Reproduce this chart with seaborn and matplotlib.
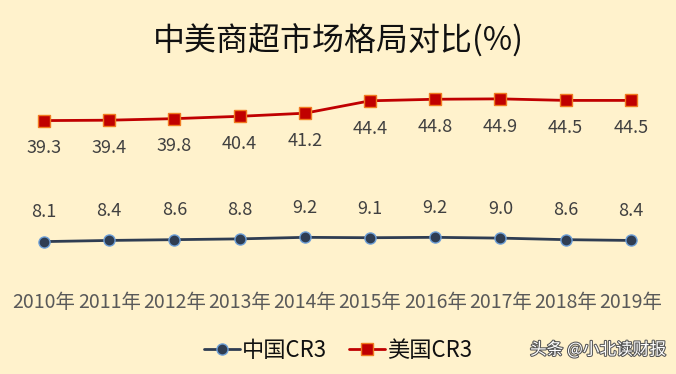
import pandas as pd
import seaborn as sns
import matplotlib.pyplot as plt
import matplotlib.patheffects as pe

years = ['2010年', '2011年', '2012年', '2013年', '2014年', '2015年', '2016年', '2017年', '2018年', '2019年']
china_cr3 = [8.1, 8.4, 8.6, 8.8, 9.2, 9.1, 9.2, 9.0, 8.6, 8.4]
us_cr3 = [39.3, 39.4, 39.8, 40.4, 41.2, 44.4, 44.8, 44.9, 44.5, 44.5]

bg = '#FFF2CC'
sns.set_style('white')
plt.rcParams['font.family'] = ['Noto Sans CJK SC', 'DejaVu Sans']

df = pd.DataFrame({'x': range(len(years)), 'china': china_cr3, 'us': us_cr3})

fig = plt.figure(figsize=(6.76, 3.74), dpi=100, facecolor=bg)
ax = fig.add_axes([0.0169, 0.270, 0.9645, 0.503])
ax.set_facecolor(bg)

sns.lineplot(data=df, x='x', y='china', ax=ax, color='#2F3D52', linewidth=2,
             marker='o', markersize=8, markerfacecolor='#2F3D52',
             markeredgecolor='#6FA0D8', markeredgewidth=1, label='中国CR3')
sns.lineplot(data=df, x='x', y='us', ax=ax, color='#C00000', linewidth=2,
             marker='s', markersize=9, markerfacecolor='#C00000',
             markeredgecolor='#F07A20', markeredgewidth=1, label='美国CR3')

for i, v in enumerate(china_cr3):
    ax.annotate(f'{v:.1f}', (i, v), xytext=(0, 21), textcoords='offset points',
                ha='center', va='center', fontsize=13, color='#404040')
for i, v in enumerate(us_cr3):
    ax.annotate(f'{v:.1f}', (i, v), xytext=(0, -20), textcoords='offset points',
                ha='center', va='center', fontsize=13, color='#404040')

ax.set_xlim(-0.5, 9.5)
ax.set_ylim(0, 48.5)
ax.set_xticks(range(len(years)))
ax.set_xticklabels(years, fontsize=14, color='#595959')
ax.set_yticks([])
ax.tick_params(axis='x', length=0, pad=14)
ax.set_xlabel('')
ax.set_ylabel('')
for s in ax.spines.values():
    s.set_visible(False)

leg = ax.legend(loc='center', bbox_to_anchor=(0.5, 0.064), bbox_transform=fig.transFigure,
                ncol=2, frameon=False, fontsize=16, handlelength=1.6, columnspacing=1.0,
                handletextpad=0.1)
for t in leg.get_texts():
    t.set_color('#111111')

fig.text(0.5, 0.893, '中美商超市场格局对比(%)', ha='center', va='center', fontsize=23, color='#111111')
fig.text(0.985, 0.064, '头条 @小北读财报', ha='right', va='center', fontsize=12, color='white',
         path_effects=[pe.withStroke(linewidth=1.5, foreground='#555555')])

fig.savefig('out.png', dpi=100, facecolor=bg)
